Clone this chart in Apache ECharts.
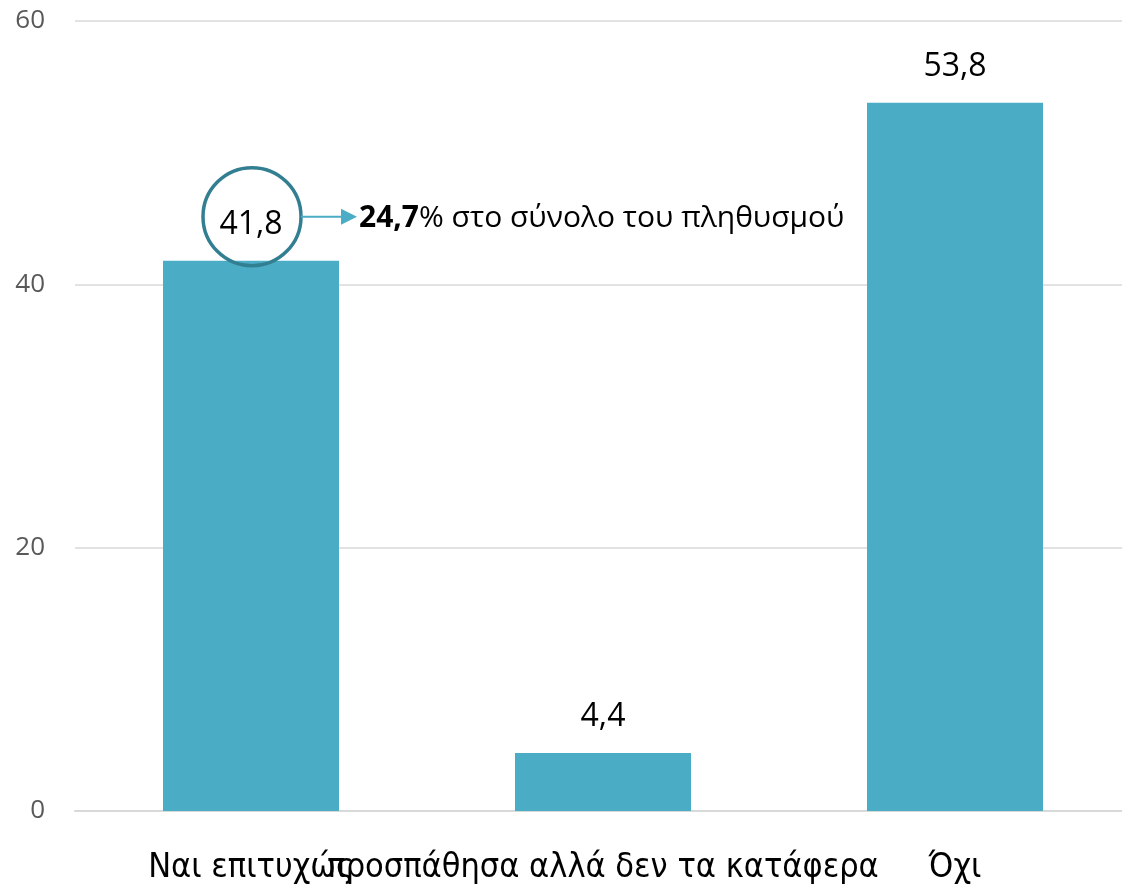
<!DOCTYPE html>
<html>
<head>
<meta charset="utf-8">
<script src="https://cdn.jsdelivr.net/npm/echarts@6/dist/echarts.min.js"></script>
<style>
  html, body { margin: 0; padding: 0; background: #fff; }
  #chart { width: 1122px; height: 895px; }
</style>
</head>
<body>
<div id="chart"></div>
<script>
  // data
  var categories = ['Ναι επιτυχώς', 'προσπάθησα αλλά δεν τα κατάφερα', 'Όχι']
  var values = [41.8, 4.4, 53.8]
  var yTicks = [0, 20, 40, 60]
  var noteBold = '24,7'
  var noteRest = '% στο σύνολο του πληθυσμού'

  var chart = echarts.init(document.getElementById('chart'))

  var option = {
    animation: false,
    grid: { left: 75, right: -9, top: 21, bottom: 84, outerBoundsMode: 'none', containLabel: false },
    xAxis: {
      type: 'category',
      data: categories,
      axisTick: { show: false },
      axisLine: { lineStyle: { color: '#d9d9d9', width: 2 } },
      axisLabel: {
        interval: 0,
        margin: 40,
        color: '#000',
        fontSize: 34,
        fontFamily: '"Liberation Sans Narrow", "DejaVu Sans Condensed", sans-serif'
      }
    },
    yAxis: {
      type: 'value',
      min: yTicks[0],
      max: yTicks[yTicks.length - 1],
      interval: 20,
      axisLine: { show: false },
      axisTick: { show: false },
      splitLine: { lineStyle: { color: '#d9d9d9', width: 1.5 } },
      axisLabel: {
        margin: 30,
        color: '#595959',
        fontSize: 26,
        fontFamily: '"Open Sans", "Noto Sans", sans-serif'
      }
    },
    series: [{
      type: 'bar',
      data: values,
      barWidth: '50%',
      itemStyle: { color: '#4BACC6' },
      label: {
        show: true,
        position: 'top',
        distance: 20,
        color: '#000',
        fontSize: 32,
        fontFamily: '"Open Sans", "Noto Sans", sans-serif',
        formatter: function (p) { return String(p.value).replace('.', ',') }
      }
    }]
  }

  chart.setOption(option)

  // annotation around the first bar's label
  var top0 = chart.convertToPixel({ seriesIndex: 0 }, [0, values[0]])
  var cx = top0[0] + 1, cy = top0[1] - 44, r = 49
  chart.setOption({
    graphic: [
      {
        type: 'circle',
        shape: { cx: cx, cy: cy, r: r },
        style: { fill: null, stroke: '#337f92', lineWidth: 3.5 },
        z: 100
      },
      {
        type: 'line',
        shape: { x1: cx + r, y1: cy, x2: cx + r + 42, y2: cy },
        style: { stroke: '#4BACC6', lineWidth: 2 },
        z: 100
      },
      {
        type: 'polygon',
        shape: { points: [[cx + r + 40, cy - 8], [cx + r + 56, cy], [cx + r + 40, cy + 8]] },
        style: { fill: '#4BACC6' },
        z: 100
      },
      {
        type: 'text',
        x: cx + r + 58,
        y: cy + 2,
        style: {
          text: '{b|' + noteBold + '}' + noteRest,
          verticalAlign: 'middle',
          fill: '#000',
          fontSize: 30,
          fontFamily: '"Open Sans", "Noto Sans", sans-serif',
          rich: {
            b: { fontWeight: 'bold', fontSize: 30, fontFamily: '"Open Sans", "Noto Sans", sans-serif' }
          }
        },
        z: 100
      }
    ]
  })
</script>
</body>
</html>
